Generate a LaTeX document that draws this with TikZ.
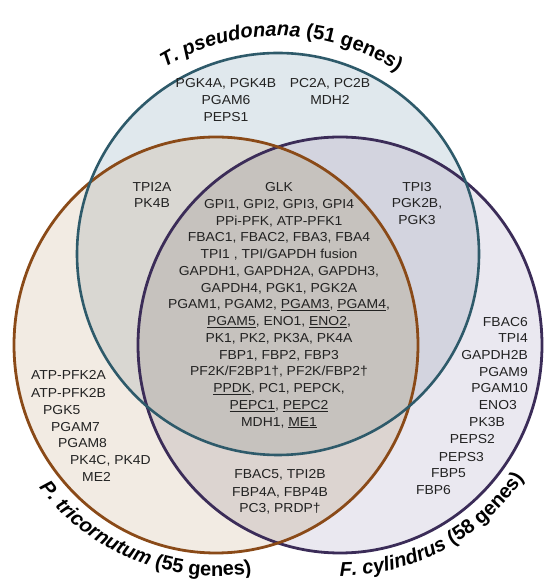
\documentclass[tikz,border=0pt]{standalone}
\usepackage{fontspec}
\setmainfont{Liberation Sans}
\newfontfamily\genefont{Liberation Sans}[FakeStretch=1.07]
\usetikzlibrary{decorations.text}
\definecolor{tealline}{HTML}{2E5A6A}
\definecolor{brownline}{HTML}{8A4A18}
\definecolor{purpline}{HTML}{3B2C58}
\definecolor{cT}{HTML}{E0E8ED}
\definecolor{cB}{HTML}{F2EBE3}
\definecolor{cP}{HTML}{EAE8F0}
\definecolor{cTB}{HTML}{D9D7D2}
\definecolor{cTP}{HTML}{D3D4DF}
\definecolor{cBP}{HTML}{DCD4D0}
\definecolor{cTBP}{HTML}{C6C2BE}
\definecolor{txt}{HTML}{222222}
\newcommand\ttlit{\fontsize{20}{22}\selectfont\bfseries\itshape}
\newcommand\ttlup{\fontsize{20}{22}\selectfont\bfseries\upshape}
\begin{document}
\begin{tikzpicture}[x=1pt,y=1pt,
  gene/.style={inner sep=0pt, anchor=base, yshift=-4.7pt, text=txt, font=\genefont\fontsize{13}{16}\selectfont},
  genew/.style={gene, anchor=base west},
  genee/.style={gene, anchor=base east},
  tealc/.style={draw=tealline, line width=2.6pt},
  brownc/.style={draw=brownline, line width=2.8pt},
  purpc/.style={draw=purpline, line width=2.8pt}]
\useasboundingbox (0,0) rectangle (543,580);
\fill[white] (0,0) rectangle (543,580);
% base fills
\fill[cT] (278,326) circle[radius=201pt];
\fill[cB] (216,235) ellipse[x radius=202pt, y radius=208pt];
\fill[cP] (340,235) ellipse[x radius=202pt, y radius=208pt];
\begin{scope}
  \clip (278,326) circle[radius=201pt];
  \fill[cTB] (216,235) ellipse[x radius=202pt, y radius=208pt];
  \fill[cTP] (340,235) ellipse[x radius=202pt, y radius=208pt];
\end{scope}
\begin{scope}
  \clip (216,235) ellipse[x radius=202pt, y radius=208pt];
  \fill[cBP] (340,235) ellipse[x radius=202pt, y radius=208pt];
\end{scope}
\begin{scope}
  \clip (278,326) circle[radius=201pt];
  \clip (216,235) ellipse[x radius=202pt, y radius=208pt];
  \fill[cTBP] (340,235) ellipse[x radius=202pt, y radius=208pt];
\end{scope}
% outlines
\draw[purpc] (340,235) ellipse[x radius=202pt, y radius=208pt];
\draw[brownc] (216,235) ellipse[x radius=202pt, y radius=208pt];
\draw[tealc] (278,326) circle[radius=201pt];
% titles
\path[shift={(278,326)}, decorate, decoration={text along path, text align=center,
  text={|\ttlit|T. pseudonana |\ttlup|(51 genes)}}]
  (155:218pt) arc[start angle=155, end angle=23, radius=218pt];
\path[shift={(216,235)}, decorate, decoration={text along path, text align=center,
  text={|\ttlit|P. tricornutum |\ttlup|(55 genes)}}]
  (175:225pt and 231pt) arc[start angle=175, end angle=323, x radius=225pt, y radius=231pt];
\path[shift={(340,235)}, decorate, decoration={text along path, text align=center,
  text={|\ttlit|F. cylindrus |\ttlup|(58 genes)}}]
  (230:225pt and 231pt) arc[start angle=230, end angle=364, x radius=225pt, y radius=231pt];
% T only
\node[gene] (t1) at (226,497) {PGK4A, PGK4B};
\node[gene] (t2) at (226,480) {PGAM6};
\node[gene] (t3) at (226,463) {PEPS1};
\node[gene] (t4) at (330,497) {PC2A, PC2B};
\node[gene] (t5) at (330,480) {MDH2};
% T and B
\node[gene] (tb1) at (152,393) {TPI2A};
\node[gene] (tb2) at (152,377) {PK4B};
% T and P
\node[gene] (tp1) at (417,393) {TPI3};
\node[gene] (tp2) at (417,377) {PGK2B,};
\node[gene] (tp3) at (417,360) {PGK3};
% centre
\node[gene] (c0) at (279,393.00) {GLK};
\node[gene] (c1) at (279,376.25) {GPI1, GPI2, GPI3, GPI4};
\node[gene] (c2) at (279,359.50) {PPi-PFK, ATP-PFK1};
\node[gene] (c3) at (279,342.75) {FBAC1, FBAC2, FBA3, FBA4};
\node[gene] (c4) at (279,326.00) {TPI1 , TPI/GAPDH fusion};
\node[gene] (c5) at (279,309.25) {GAPDH1, GAPDH2A, GAPDH3,};
\node[gene] (c6) at (279,292.50) {GAPDH4, PGK1, PGK2A};
\node[gene] (c7) at (279,275.75) {PGAM1, PGAM2, \underline{PGAM3}, \underline{PGAM4},};
\node[gene] (c8) at (279,259.00) {\underline{PGAM5}, ENO1, \underline{ENO2},};
\node[gene] (c9) at (279,242.25) {PK1, PK2, PK3A, PK4A};
\node[gene] (c10) at (279,225.50) {FBP1, FBP2, FBP3};
\node[gene] (c11) at (279,208.75) {PF2K/F2BP1†, PF2K/FBP2†};
\node[gene] (c12) at (279,192.00) {\underline{PPDK}, PC1, PEPCK,};
\node[gene] (c13) at (279,175.25) {\underline{PEPC1}, \underline{PEPC2}};
\node[gene] (c14) at (279,158.50) {MDH1, \underline{ME1}};
% B only
\node[genew] (b1) at (31,205) {ATP-PFK2A};
\node[genew] (b2) at (31,187) {ATP-PFK2B};
\node[genew] (b3) at (43,170) {PGK5};
\node[genew] (b4) at (51,153) {PGAM7};
\node[genew] (b5) at (58,137) {PGAM8};
\node[genew] (b6) at (70,120) {PK4C, PK4D};
\node[genew] (b7) at (82,103) {ME2};
% P only
\node[genee] (p1) at (528,258) {FBAC6};
\node[genee] (p2) at (528,242) {TPI4};
\node[genee] (p3) at (528,225) {GAPDH2B};
\node[genee] (p4) at (528,208) {PGAM9};
\node[genee] (p5) at (528,192) {PGAM10};
\node[genee] (p6) at (517,175) {ENO3};
\node[genee] (p7) at (505,158) {PK3B};
\node[genee] (p8) at (495,141) {PEPS2};
\node[genee] (p9) at (484,123) {PEPS3};
\node[genee] (p10) at (466,107) {FBP5};
\node[genee] (p11) at (451,90) {FBP6};
% B and P
\node[gene] (bp1) at (280,106) {FBAC5, TPI2B};
\node[gene] (bp2) at (280,88) {FBP4A, FBP4B};
\node[gene] (bp3) at (280,72) {PC3, PRDP†};
\end{tikzpicture}
\end{document}
